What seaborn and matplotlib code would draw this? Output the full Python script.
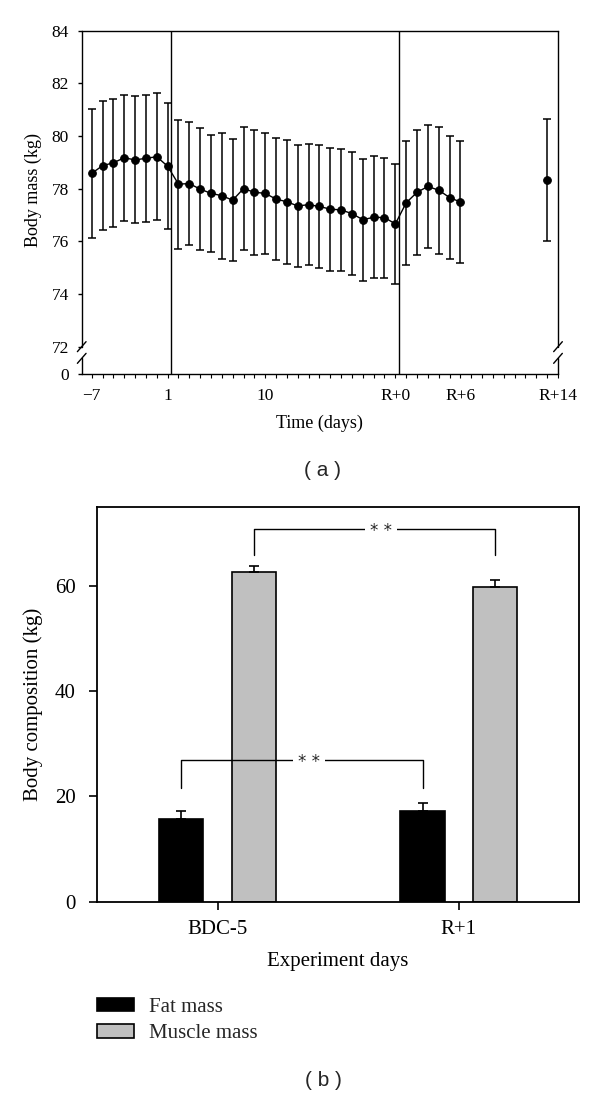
import numpy as np
import pandas as pd
import matplotlib
matplotlib.use("Agg")
import matplotlib.pyplot as plt
import seaborn as sns
from matplotlib.ticker import MultipleLocator
from matplotlib.patches import Patch

# -------------------------------
# Data (a): body mass over time
# -------------------------------
time_labels = ["-7", "-6", "-5", "-4", "-3", "-2", "-1",
               "1", "2", "3", "4", "5", "6", "7", "8", "9", "10", "11",
               "12", "13", "14", "15", "16", "17", "18", "19", "20", "21",
               "R+0", "R+1", "R+2", "R+3", "R+4", "R+5", "R+6", "R+14"]
mass_mean = [78.58, 78.87, 78.98, 79.17, 79.09, 79.15, 79.21,
             78.85, 78.17, 78.19, 77.98, 77.82, 77.73, 77.56, 78.00, 77.86, 77.82, 77.60,
             77.50, 77.34, 77.39, 77.32, 77.22, 77.19, 77.05, 76.82, 76.91, 76.90,
             76.66, 77.46, 77.86, 78.08, 77.94, 77.66, 77.49, 78.34]
mass_sd = [2.44, 2.45, 2.44, 2.40, 2.41, 2.41, 2.41,
           2.40, 2.45, 2.33, 2.32, 2.22, 2.40, 2.31, 2.35, 2.37, 2.30, 2.31,
           2.36, 2.30, 2.29, 2.32, 2.34, 2.31, 2.34, 2.32, 2.32, 2.28,
           2.27, 2.35, 2.37, 2.35, 2.41, 2.35, 2.32, 2.32]
tick_days = ["-7", "1", "10", "R+0", "R+6"]

# -------------------------------
# Data (b): body composition
# -------------------------------
exp_days = ["BDC-5", "R+1"]
fat_mean = [15.7, 17.1]
fat_err = [1.4, 1.6]
muscle_mean = [62.6, 59.8]
muscle_err = [1.2, 1.2]
comp_colors = {"Fat mass": "black", "Muscle mass": "#c0c0c0"}


def axis_pos(label):
    # day axis: no day 0, recovery days follow the last flight day
    if label.startswith("R+"):
        return 28 + int(label[2:])
    d = int(label)
    return d + 7 if d < 0 else d + 6


sns.set_theme(style="ticks")
plt.rcParams["font.family"] = ["Liberation Serif", "DejaVu Serif"]

fig = plt.figure(figsize=(6, 10.97), dpi=100)
ax1 = fig.add_axes([0.1362, 0.6591, 0.7938, 0.3130])
ax2 = fig.add_axes([0.1617, 0.1782, 0.8038, 0.3599])

# -------------------------------
# (a) Body mass
# -------------------------------
df = pd.DataFrame({"day": time_labels, "mass": mass_mean, "sd": mass_sd})
df["pos"] = df["day"].map(axis_pos)
df["segment"] = np.where(df["day"] == "R+14", "follow-up", "study")

ax1.errorbar(df["pos"], df["mass"], yerr=df["sd"], fmt="none", ecolor="black",
             elinewidth=1.1, capsize=2.8, capthick=1.1, zorder=2)
sns.lineplot(data=df, x="pos", y="mass", units="segment", estimator=None,
             marker="o", color="black", linewidth=1.0, markersize=5.5,
             markeredgecolor="black", ax=ax1, zorder=3)

ymin = 70.96
xmax = 43
ax1.set_xlim(-0.92, xmax)
ax1.set_ylim(ymin, 84)
ax1.set_yticks([ymin, 72, 74, 76, 78, 80, 82, 84])
ax1.set_yticklabels(["0", "72", "74", "76", "78", "80", "82", "84"])
ax1.set_xticks([axis_pos(t) for t in tick_days] + [xmax])
ax1.set_xticklabels([t.replace("-", "\u2212") for t in tick_days] + ["R+14"])
ax1.xaxis.set_minor_locator(MultipleLocator(1))
ax1.tick_params(axis="y", direction="out", length=3.2, width=1, pad=6,
                labelsize=12.5, colors="black")
ax1.tick_params(axis="x", which="both", direction="out", length=3, width=0.8,
                pad=7, labelsize=12.5, colors="black")

ax1.axvline(axis_pos("1") + 0.35, color="black", lw=1.0)
ax1.axvline(axis_pos("R+0") + 0.3, color="black", lw=1.0)

for side in ["left", "right"]:
    ax1.spines[side].set_visible(False)
for side in ["top", "bottom"]:
    ax1.spines[side].set_color("black")
    ax1.spines[side].set_linewidth(1.0)

# broken y axis on both sides
for xs in [0, 1]:
    ax1.plot([xs, xs], [0.0786, 1], transform=ax1.transAxes, color="black",
             lw=1.0, clip_on=False)
    ax1.plot([xs, xs], [0, 0.0466], transform=ax1.transAxes, color="black",
             lw=1.0, clip_on=False)
    for yc in [0.0795, 0.0455]:
        ax1.plot([xs - 0.0091, xs + 0.0091], [yc - 0.0145, yc + 0.0145],
                 transform=ax1.transAxes, color="black", lw=1.0, clip_on=False)

ax1.set_xlabel("Time (days)", fontsize=13, color="black")
ax1.set_ylabel("Body mass (kg)", fontsize=13, color="black")
ax1.xaxis.set_label_coords(0.499, -0.119)
ax1.yaxis.set_label_coords(-0.084, 0.536)

# -------------------------------
# (b) Body composition
# -------------------------------
comp = pd.DataFrame({
    "day": exp_days * 2,
    "mass": fat_mean + muscle_mean,
    "component": ["Fat mass"] * len(exp_days) + ["Muscle mass"] * len(exp_days),
})
sns.barplot(data=comp, x="day", y="mass", hue="component", palette=comp_colors,
            width=0.6, gap=0.39, edgecolor="black", linewidth=1.2,
            errorbar=None, legend=False, ax=ax2)

centers = []
for cont, errs in zip(ax2.containers, [fat_err, muscle_err]):
    xs = [p.get_x() + p.get_width() / 2 for p in cont]
    ys = [p.get_height() for p in cont]
    centers.append(xs)
    ax2.errorbar(xs, ys, yerr=[np.zeros(len(errs)), errs], fmt="none",
                 ecolor="black", elinewidth=1.2, capsize=3.6, capthick=1.2, zorder=3)


def bracket(x0, x1, y_top, y_drop, text):
    ax2.plot([x0, x0, x1, x1], [y_drop, y_top, y_top, y_drop], color="black",
             lw=1.0, zorder=4)
    ax2.annotate(text, xy=((x0 + x1) / 2, y_top), xytext=(5, -1.5),
                 textcoords="offset points", ha="center", va="center",
                 fontsize=12, family="DejaVu Sans", zorder=5,
                 bbox=dict(boxstyle="square,pad=0.3", fc="white", ec="none"))


bracket(centers[1][0], centers[1][1], 70.8, 65.9, "* *")
bracket(centers[0][0], centers[0][1], 26.9, 21.5, "* *")

ax2.set_xlim(-0.5, 1.5)
ax2.set_ylim(0, 75)
ax2.set_yticks([0, 20, 40, 60])
ax2.tick_params(axis="both", direction="out", length=5.5, width=1.2,
                labelsize=15, colors="black")
ax2.tick_params(axis="y", pad=10)
ax2.tick_params(axis="x", pad=8)
for side in ax2.spines:
    ax2.spines[side].set_visible(True)
    ax2.spines[side].set_color("black")
    ax2.spines[side].set_linewidth(1.3)

ax2.set_xlabel("Experiment days", fontsize=15, color="black")
ax2.set_ylabel("Body composition (kg)", fontsize=15, color="black")
ax2.xaxis.set_label_coords(0.5, -0.127)
ax2.yaxis.set_label_coords(-0.111, 0.5)

handles = [Patch(facecolor=c, edgecolor="black", linewidth=1.2, label=k)
           for k, c in comp_colors.items()]
ax2.legend(handles=handles, loc="upper left", bbox_to_anchor=(0.161, 0.0907),
           bbox_transform=fig.transFigure, frameon=False, fontsize=15,
           handlelength=1.78, handleheight=0.61, handletextpad=0.72,
           labelspacing=0.38, borderpad=0, borderaxespad=0)

fig.text(323 / 600, 1 - 470 / 1097, "( a )", ha="center", va="center",
         family="Liberation Sans", fontsize=15)
fig.text(323 / 600, 1 - 1080 / 1097, "( b )", ha="center", va="center",
         family="Liberation Sans", fontsize=15)

fig.savefig("out.png", dpi=100)
